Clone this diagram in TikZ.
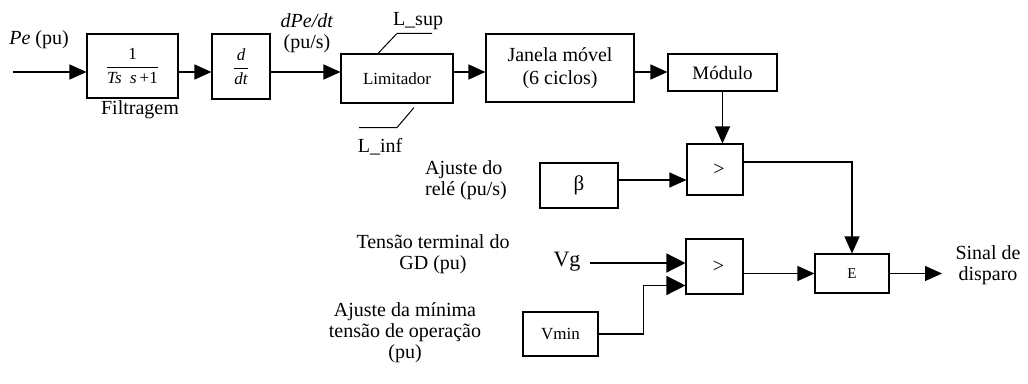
\documentclass[tikz,border=0pt]{standalone}
\usepackage{fontspec}
\setmainfont{Liberation Serif}
\usetikzlibrary{arrows.meta,calc}
\newcommand\fsz[2]{\fontsize{#1}{#2}\selectfont}
\begin{document}
\begin{tikzpicture}[x=1pt,y=-1pt,
  box/.style={draw, line width=1.1pt, inner sep=0pt, align=center},
  arr/.style={line width=1.2pt, -{Triangle[length=17pt,width=15pt]}},
  bigarr/.style={line width=1.4pt, -{Triangle[length=19pt,width=19pt]}},
  ln/.style={line width=1.2pt},
  thinln/.style={line width=1pt},
  lbl/.style={inner sep=0pt, align=center, font=\fsz{20}{21}}]
\useasboundingbox (0,0) rectangle (1028,383);

% top chain
\node[box, minimum width=91, minimum height=64, font=\fsz{17}{18}] (filt) at (132.5,66)
  {$\displaystyle\frac{\textrm{1}}{\textit{Ts}\enspace\textit{s}\,\textrm{+}\textrm{1}}$};
\node[lbl] (filtlbl) at (140,110) {Filtragem};
\node[box, minimum width=58, minimum height=65, font=\fsz{17}{18}] (dd) at (241,66.5)
  {$\displaystyle\frac{\textit{d}}{\textit{dt}}$};
\node[lbl] (pe) at (39,40) {\textit{Pe} (pu)};
\node[lbl] (dpe) at (307,33) {\textit{dPe/dt}\\(pu/s)};
\node[box, minimum width=112, minimum height=49, font=\fsz{17}{18}] (lim) at (397,78.5) {Limitador};
\node[lbl] (lsup) at (418,21) {L\_sup};
\node[lbl] (linf) at (380,147) {L\_inf};
\node[box, minimum width=148, minimum height=68, font=\fsz{20}{23}] (jan) at (560,68) {Janela móvel\\(6 ciclos)};
\node[box, minimum width=109, minimum height=37, font=\fsz{19}{20}] (mod) at (722.5,72.5) {Módulo};

% comparators
\node[box, minimum width=56, minimum height=51, font=\fsz{20}{21}] (c1) at (715,169.5) {\hspace*{8pt}>};
\node[box, minimum width=78, minimum height=45, font=\fsz{21}{22}] (beta) at (579,185.5) {β};
\node[lbl, align=left, anchor=west] (ajr) at (425,180) {Ajuste do\\relé (pu/s)};

\node[box, minimum width=57, minimum height=55, font=\fsz{20}{21}] (c2) at (714.5,266.5) {\hspace*{8pt}>};
\node[box, minimum width=74, minimum height=39, font=\fsz{15}{16}] (e) at (852,273.5) {E};
\node[box, minimum width=75, minimum height=44, font=\fsz{17}{18}] (vmin) at (560.5,334) {Vmin};
\node[lbl, font=\fsz{22}{23}] (vg) at (567,262) {Vg};
\node[lbl] (tens) at (433,254) {Tensão terminal do\\GD (pu)};
\node[lbl] (ajm) at (405,333) {Ajuste da mínima\\tensão de operação\\(pu)};
\node[lbl] (sinal) at (988,265) {Sinal de\\disparo};

\coordinate (in) at (13,72);
\coordinate (out) at (942,273.5);

\draw[arr] (in) -- (in -| filt.west);
\draw[arr] (filt.east |- in) -- (in -| dd.west);
\draw[arr] (dd.east |- in) -- (in -| lim.west);
\draw[arr] (lim.east |- in) -- (in -| jan.west);
\draw[arr] (jan.east |- in) -- (in -| mod.west);
\draw[arr] (mod.south) -- (mod.south |- c1.north);
\draw[arr] ($(beta.east)+(0,-5.5)$) -- ($(c1.west)+(0,10.5)$);
\draw[arr] ($(c1.east)+(0,-7.5)$) -| (e.north);
\draw[arr] (e.east) -- (out);
\draw[arr] (c2.east |- e.west) -- (e.west);
\draw[bigarr] ($(vg.east)+(9,1)$) -- ($(c2.west)+(0,-3.5)$);
\draw[bigarr] (vmin.east) -- ++(45,0) |- ($(c2.west)+(0,19)$);

% limiter marks
\draw[thinln] ($(lim.north)+(-19,0)$) -- ++(19,-20) -- ++(35,0);
\draw[thinln] ($(lim.south)+(17,4)$) -- ++(-17,20) -- ++(-38,0);
\end{tikzpicture}
\end{document}
